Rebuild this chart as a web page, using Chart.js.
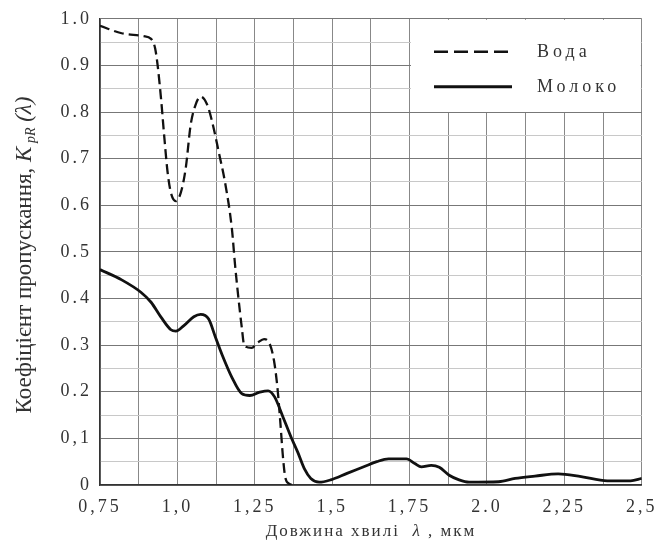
<!DOCTYPE html>
<html>
<head>
<meta charset="utf-8">
<script src="https://cdn.jsdelivr.net/npm/chart.js@4"></script>
<style>
  body { margin: 0; background: #fff; }
</style>
</head>
<body>
<canvas id="myChart" width="664" height="544"></canvas>
<script>
// Вода (пунктир)
var waterX = [0.75, 0.82, 0.89, 0.915, 0.928, 0.936, 0.947, 0.958, 0.968, 0.979, 0.995, 1.011, 1.027, 1.043, 1.059, 1.075, 1.096, 1.112, 1.133, 1.155, 1.176, 1.186, 1.197, 1.208, 1.216, 1.24, 1.261, 1.28, 1.298, 1.312, 1.323, 1.332, 1.341, 1.348, 1.36, 1.375];
var waterY = [0.985, 0.969, 0.963, 0.957, 0.937, 0.901, 0.83, 0.744, 0.673, 0.627, 0.609, 0.627, 0.68, 0.773, 0.816, 0.833, 0.816, 0.78, 0.716, 0.645, 0.55, 0.474, 0.402, 0.338, 0.299, 0.294, 0.306, 0.313, 0.303, 0.267, 0.21, 0.139, 0.06, 0.018, 0.003, 0];

// Молоко (суцільна)
var milkX = [0.75, 0.82, 0.883, 0.915, 0.947, 0.979, 0.995, 1.021, 1.053, 1.075, 1.101, 1.123, 1.144, 1.176, 1.208, 1.234, 1.266, 1.293, 1.314, 1.341, 1.367, 1.389, 1.41, 1.431, 1.458, 1.495, 1.548, 1.602, 1.644, 1.682, 1.74, 1.767, 1.788, 1.82, 1.846, 1.878, 1.91, 1.942, 2.038, 2.091, 2.155, 2.23, 2.304, 2.389, 2.464, 2.5];
var milkY = [0.462, 0.44, 0.413, 0.392, 0.36, 0.333, 0.33, 0.342, 0.361, 0.366, 0.356, 0.317, 0.28, 0.231, 0.196, 0.192, 0.199, 0.202, 0.189, 0.146, 0.103, 0.07, 0.035, 0.014, 0.006, 0.011, 0.025, 0.039, 0.05, 0.056, 0.056, 0.046, 0.039, 0.042, 0.038, 0.021, 0.011, 0.006, 0.007, 0.014, 0.019, 0.024, 0.018, 0.009, 0.009, 0.014];

var xTickValues = [0.75, 1.0, 1.25, 1.5, 1.75, 2.0, 2.25, 2.5];
var xTickLabels = ['0,75', '1,0', '1,25', '1,5', '1,75', '2.0', '2,25', '2,5'];
var yTickValues = [0, 0.1, 0.2, 0.3, 0.4, 0.5, 0.6, 0.7, 0.8, 0.9, 1.0];
var yTickLabels = ['0', '0,1', '0.2', '0.3', '0.4', '0.5', '0.6', '0.7', '0.8', '0.9', '1.0'];

var seriesNames = ['Вода', 'Молоко'];

function toPoints(xs, ys) {
    return xs.map(function (x, i) { return { x: x, y: ys[i] }; });
}

function findLabel(values, labels, v) {
    for (var i = 0; i < values.length; i++) {
        if (Math.abs(values[i] - v) < 1e-6) return labels[i];
    }
    return '';
}

var serif = "'Liberation Serif', 'Times New Roman', 'DejaVu Serif', serif";

// білий блок легенди + підписи осей
var extras = {
    id: 'extras',
    beforeDraw: function (chart) {
        chart.ctx.letterSpacing = '3px';
    },
    beforeDatasetsDraw: function (chart) {
        var ctx = chart.ctx;
        var xs = chart.scales.x, ys = chart.scales.y;
        var area = chart.chartArea;
        var bx = Math.round(xs.getPixelForValue(1.75));
        var by = Math.round(ys.getPixelForValue(0.8));
        ctx.save();
        ctx.fillStyle = '#fff';
        ctx.fillRect(bx + 1, area.top + 1, area.right - bx - 2, by - area.top - 1);

        ctx.letterSpacing = '0px';
        ctx.strokeStyle = '#111';
        ctx.lineWidth = 2.4;
        ctx.setLineDash([14, 6]);
        ctx.beginPath();
        ctx.moveTo(bx + 24, area.top + 33);
        ctx.lineTo(bx + 102, area.top + 33);
        ctx.stroke();
        ctx.setLineDash([]);
        ctx.lineWidth = 3;
        ctx.beginPath();
        ctx.moveTo(bx + 24, area.top + 68);
        ctx.lineTo(bx + 102, area.top + 68);
        ctx.stroke();

        ctx.letterSpacing = '4px';
        ctx.fillStyle = '#333';
        ctx.font = '18px ' + serif;
        ctx.textBaseline = 'middle';
        ctx.textAlign = 'left';
        ctx.fillText(seriesNames[0], bx + 127, area.top + 33);
        ctx.fillText(seriesNames[1], bx + 127, area.top + 68);
        ctx.restore();
    },
    afterDraw: function (chart) {
        var ctx = chart.ctx;
        ctx.save();
        ctx.fillStyle = '#333';
        ctx.textBaseline = 'middle';
        ctx.textAlign = 'left';

        // вісь X
        ctx.letterSpacing = '2px';
        var xParts = [
            ['Довжина хвилі  ', '17px ' + serif, 0],
            ['λ', 'italic 17px ' + serif, 0],
            [' , мкм', '17px ' + serif, 0]
        ];
        drawParts(ctx, xParts, 371, 532);

        // вісь Y
        ctx.letterSpacing = '0px';
        ctx.translate(25, 255);
        ctx.rotate(-Math.PI / 2);
        var yParts = [
            ['Коефіцієнт пропускання, ', '23px ' + serif, 0],
            ['K', 'italic 23px ' + serif, 0],
            [' pR', 'italic 14px ' + serif, 6],
            [' (λ)', 'italic 23px ' + serif, 0]
        ];
        drawParts(ctx, yParts, 0, 0);
        ctx.restore();
        ctx.letterSpacing = '0px';
    }
};

function drawParts(ctx, parts, cx, cy) {
    var total = 0;
    parts.forEach(function (p) { ctx.font = p[1]; total += ctx.measureText(p[0]).width; });
    var x = cx - total / 2;
    parts.forEach(function (p) {
        ctx.font = p[1];
        ctx.fillText(p[0], x, cy + p[2]);
        x += ctx.measureText(p[0]).width;
    });
}

var ctx1 = document.getElementById('myChart').getContext('2d');
var myChart = new Chart(ctx1, {
    type: 'line',
    data: {
        datasets: [{
            label: seriesNames[0],
            data: toPoints(waterX, waterY),
            borderColor: '#111',
            borderWidth: 2.3,
            borderDash: [10, 5],
            pointRadius: 0,
            cubicInterpolationMode: 'monotone',
            fill: false
        }, {
            label: seriesNames[1],
            data: toPoints(milkX, milkY),
            borderColor: '#111',
            borderWidth: 2.8,
            pointRadius: 0,
            cubicInterpolationMode: 'monotone',
            fill: false
        }]
    },
    options: {
        responsive: false,
        animation: false,
        layout: { padding: { left: 0, right: 16, top: 17, bottom: 0 } },
        plugins: {
            legend: { display: false },
            tooltip: { enabled: false }
        },
        scales: {
            x: {
                type: 'linear',
                min: 0.75,
                max: 2.5,
                afterFit: function (s) { s.height = 59; },
                grid: { color: '#888', lineWidth: 1, drawTicks: false },
                border: { color: '#333', width: 1.5 },
                ticks: {
                    stepSize: 0.125,
                    autoSkip: false,
                    maxRotation: 0,
                    padding: 11,
                    color: '#333',
                    font: { family: serif, size: 18 },
                    callback: function (v) { return findLabel(xTickValues, xTickLabels, v); }
                }
            },
            y: {
                min: 0,
                max: 1,
                afterFit: function (s) { s.width = 100; },
                grid: {
                    drawTicks: false,
                    color: function (c) {
                        var v = c.tick.value * 10;
                        return Math.abs(v - Math.round(v)) < 1e-6 ? '#777' : '#c8c8c8';
                    },
                    lineWidth: 1
                },
                border: { color: '#333', width: 1.5 },
                ticks: {
                    stepSize: 0.05,
                    autoSkip: false,
                    maxTicksLimit: 100,
                    padding: 8,
                    color: '#333',
                    font: { family: serif, size: 18 },
                    callback: function (v) { return findLabel(yTickValues, yTickLabels, v); }
                }
            }
        }
    },
    plugins: [extras]
});
</script>
</body>
</html>
